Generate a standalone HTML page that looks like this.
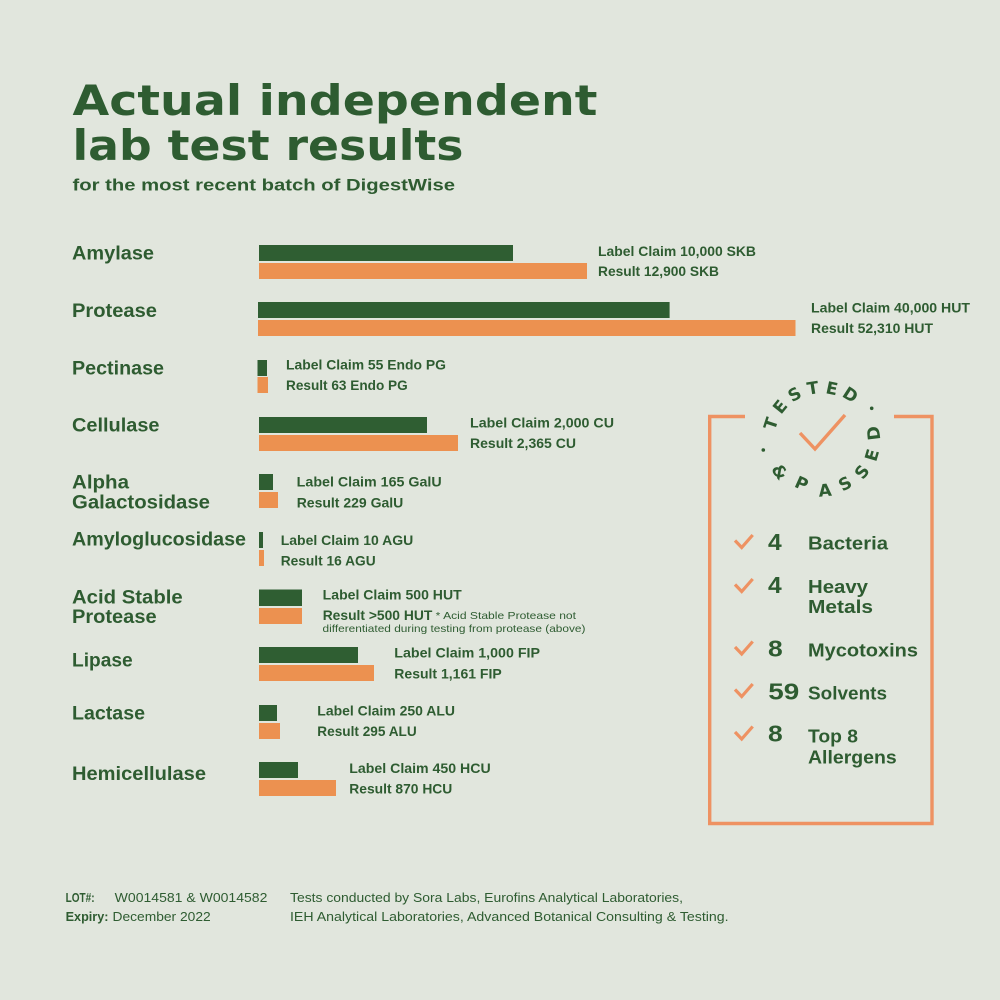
<!DOCTYPE html>
<html><head><meta charset="utf-8"><style>
html,body{margin:0;padding:0;background:#e1e6dd;}
svg{display:block;}
text{fill:#2e5c31;font-family:"Liberation Sans",sans-serif;font-weight:bold;}
.t{font-family:"DejaVu Sans","Liberation Sans",sans-serif;font-weight:bold;}
.lab{font-size:14px;}
.name{font-size:19px;}
.reg{font-weight:normal;}
</style></head><body>
<svg width="1000" height="1000" viewBox="0 0 1000 1000" xmlns="http://www.w3.org/2000/svg">
<rect width="1000" height="1000" fill="#e1e6dd"/>
<!-- Title -->
<text class="t" x="72.5" y="115" font-size="42" textLength="525" lengthAdjust="spacingAndGlyphs">Actual independent</text>
<text class="t" x="72.5" y="160" font-size="42" textLength="391" lengthAdjust="spacingAndGlyphs">lab test results</text>
<text x="72.5" y="190.5" font-size="16.5" textLength="382.5" lengthAdjust="spacingAndGlyphs">for the most recent batch of DigestWise</text>

<!-- Left names -->
<g class="name">
<text class="name" x="72" y="259.5" textLength="82" lengthAdjust="spacingAndGlyphs">Amylase</text>
<text class="name" x="72" y="317" textLength="85" lengthAdjust="spacingAndGlyphs">Protease</text>
<text class="name" x="72" y="374.5" textLength="92" lengthAdjust="spacingAndGlyphs">Pectinase</text>
<text class="name" x="72" y="431.7" textLength="87.5" lengthAdjust="spacingAndGlyphs">Cellulase</text>
<text class="name" x="72" y="488.3" textLength="57" lengthAdjust="spacingAndGlyphs">Alpha</text>
<text class="name" x="72" y="508.3" textLength="138" lengthAdjust="spacingAndGlyphs">Galactosidase</text>
<text class="name" x="72" y="545.7" textLength="174" lengthAdjust="spacingAndGlyphs">Amyloglucosidase</text>
<text class="name" x="72" y="603.3" textLength="110.7" lengthAdjust="spacingAndGlyphs">Acid Stable</text>
<text class="name" x="72" y="623" textLength="84.6" lengthAdjust="spacingAndGlyphs">Protease</text>
<text class="name" x="72" y="666.7" textLength="60.7" lengthAdjust="spacingAndGlyphs">Lipase</text>
<text class="name" x="72" y="719.3" textLength="73" lengthAdjust="spacingAndGlyphs">Lactase</text>
<text class="name" x="72" y="780" textLength="134" lengthAdjust="spacingAndGlyphs">Hemicellulase</text>
</g>

<!-- Bars -->
<g fill="#2f5e32">
<rect x="259" y="245" width="254" height="16"/>
<rect x="258" y="302" width="411.6" height="16"/>
<rect x="257.5" y="360" width="9.5" height="16"/>
<rect x="259" y="417" width="168" height="16"/>
<rect x="259" y="474" width="14" height="16"/>
<rect x="259" y="532" width="4" height="16"/>
<rect x="259" y="589.5" width="43" height="16.5"/>
<rect x="259" y="647" width="99" height="16"/>
<rect x="259" y="705" width="18" height="16"/>
<rect x="259" y="762" width="39" height="16"/>
</g>
<g fill="#ec9150">
<rect x="259" y="263" width="328" height="16"/>
<rect x="258" y="320" width="537.5" height="16"/>
<rect x="257.5" y="377" width="10.5" height="16"/>
<rect x="259" y="435" width="199" height="16"/>
<rect x="259" y="492" width="19" height="16"/>
<rect x="259" y="550" width="5" height="16"/>
<rect x="259" y="608" width="43" height="16"/>
<rect x="259" y="665" width="115" height="16"/>
<rect x="259" y="723" width="21" height="16"/>
<rect x="259" y="780" width="77" height="16"/>
</g>

<!-- Bar labels -->
<text class="lab" x="598" y="256" textLength="158" lengthAdjust="spacingAndGlyphs">Label Claim 10,000 SKB</text>
<text class="lab" x="598" y="276" textLength="121" lengthAdjust="spacingAndGlyphs">Result 12,900 SKB</text>
<text class="lab" x="811" y="312.5" textLength="159" lengthAdjust="spacingAndGlyphs">Label Claim 40,000 HUT</text>
<text class="lab" x="811" y="333" textLength="122" lengthAdjust="spacingAndGlyphs">Result 52,310 HUT</text>
<text class="lab" x="286" y="369.5" textLength="160" lengthAdjust="spacingAndGlyphs">Label Claim 55 Endo PG</text>
<text class="lab" x="286" y="390" textLength="121.7" lengthAdjust="spacingAndGlyphs">Result 63 Endo PG</text>
<text class="lab" x="470" y="427.5" textLength="144" lengthAdjust="spacingAndGlyphs">Label Claim 2,000 CU</text>
<text class="lab" x="470" y="448" textLength="106" lengthAdjust="spacingAndGlyphs">Result 2,365 CU</text>
<text class="lab" x="296.7" y="486.7" textLength="145" lengthAdjust="spacingAndGlyphs">Label Claim 165 GalU</text>
<text class="lab" x="296.7" y="507.7" textLength="106.6" lengthAdjust="spacingAndGlyphs">Result 229 GalU</text>
<text class="lab" x="280.7" y="545" textLength="132.6" lengthAdjust="spacingAndGlyphs">Label Claim 10 AGU</text>
<text class="lab" x="280.7" y="565.7" textLength="95" lengthAdjust="spacingAndGlyphs">Result 16 AGU</text>
<text class="lab" x="322.7" y="599.5" textLength="139" lengthAdjust="spacingAndGlyphs">Label Claim 500 HUT</text>
<text class="lab" x="322.7" y="620" textLength="109.6" lengthAdjust="spacingAndGlyphs">Result &gt;500 HUT</text>
<text class="reg" x="435.7" y="619" font-size="10.5" textLength="140.3" lengthAdjust="spacingAndGlyphs">* Acid Stable Protease not</text>
<text class="reg" x="322.5" y="632" font-size="10.5" textLength="263" lengthAdjust="spacingAndGlyphs">differentiated during testing from protease (above)</text>
<text class="lab" x="394.3" y="657.5" textLength="145.7" lengthAdjust="spacingAndGlyphs">Label Claim 1,000 FIP</text>
<text class="lab" x="394.3" y="678.5" textLength="107.4" lengthAdjust="spacingAndGlyphs">Result 1,161 FIP</text>
<text class="lab" x="317.3" y="715.5" textLength="137.7" lengthAdjust="spacingAndGlyphs">Label Claim 250 ALU</text>
<text class="lab" x="317.3" y="736" textLength="99.4" lengthAdjust="spacingAndGlyphs">Result 295 ALU</text>
<text class="lab" x="349.3" y="773" textLength="141.4" lengthAdjust="spacingAndGlyphs">Label Claim 450 HCU</text>
<text class="lab" x="349.3" y="793.5" textLength="103" lengthAdjust="spacingAndGlyphs">Result 870 HCU</text>

<!-- Right box -->
<path d="M745 416.5 H709.7 V823.5 H932 V416.5 H894" fill="none" stroke="#ee9262" stroke-width="3.4"/>
<!-- Badge check -->
<polyline points="800,433 815,449 845,415" fill="none" stroke="#ee9262" stroke-width="3.4"/>
<!-- Badge letters -->
<g class="t" font-size="17" text-anchor="middle">
<text class="t" transform="translate(770.6,423.6) rotate(-72)" y="6.2">T</text>
<text class="t" transform="translate(779.8,406.6) rotate(-51)" y="6.2">E</text>
<text class="t" transform="translate(794.5,394.1) rotate(-30)" y="6.2">S</text>
<text class="t" transform="translate(812.7,387.7) rotate(-9)" y="6.2">T</text>
<text class="t" transform="translate(832,388.2) rotate(12)" y="6.2">E</text>
<text class="t" transform="translate(850.5,394.5) rotate(33)" y="6.2">D</text>
<text class="t" transform="translate(873.3,433.3) rotate(-97)" y="6.2">D</text>
<text class="t" transform="translate(871.7,455) rotate(-73.5)" y="6.2">E</text>
<text class="t" transform="translate(861.7,471.7) rotate(-52)" y="6.2">S</text>
<text class="t" transform="translate(845,483.3) rotate(-29)" y="6.2">S</text>
<text class="t" transform="translate(825,490) rotate(-5)" y="6.2">A</text>
<text class="t" transform="translate(801.7,483.3) rotate(24)" y="6.2">P</text>
<text class="t" transform="translate(780,471.7) rotate(52)" y="6.2">&amp;</text>
</g>
<circle cx="871.7" cy="408.3" r="1.8" fill="#2e5c31"/>
<circle cx="763.3" cy="450" r="1.8" fill="#2e5c31"/>

<!-- List checks -->
<g fill="none" stroke="#ee9262" stroke-width="3.2">
<polyline points="735,540.5 741.7,547.5 752.7,535"/>
<polyline points="735,584.5 741.7,591.5 752.7,579"/>
<polyline points="735,647 741.7,654 752.7,641.5"/>
<polyline points="735,689.5 741.7,696.5 752.7,684"/>
<polyline points="735,732 741.7,739 752.7,726.5"/>
</g>
<g font-size="23.5">
<text x="768" y="550" textLength="13.7" lengthAdjust="spacingAndGlyphs">4</text>
<text x="768" y="593" textLength="13.7" lengthAdjust="spacingAndGlyphs">4</text>
<text x="768" y="656.7" textLength="14.7" lengthAdjust="spacingAndGlyphs">8</text>
<text x="768.3" y="699.3" textLength="31" lengthAdjust="spacingAndGlyphs">59</text>
<text x="768" y="741.7" textLength="14.7" lengthAdjust="spacingAndGlyphs">8</text>
</g>
<g font-size="18.5">
<text x="808" y="549.3" textLength="80" lengthAdjust="spacingAndGlyphs">Bacteria</text>
<text x="808" y="593" textLength="60" lengthAdjust="spacingAndGlyphs">Heavy</text>
<text x="808" y="613" textLength="65" lengthAdjust="spacingAndGlyphs">Metals</text>
<text x="808" y="656.7" textLength="110" lengthAdjust="spacingAndGlyphs">Mycotoxins</text>
<text x="808" y="699.3" textLength="79" lengthAdjust="spacingAndGlyphs">Solvents</text>
<text x="808" y="742.7" textLength="50" lengthAdjust="spacingAndGlyphs">Top 8</text>
<text x="808" y="763.3" textLength="88.7" lengthAdjust="spacingAndGlyphs">Allergens</text>
</g>

<!-- Footer -->
<g font-size="12.5">
<text x="65.6" y="902" textLength="29" lengthAdjust="spacingAndGlyphs" font-weight="600">LOT#:</text>
<text class="reg" x="114.7" y="902" textLength="152.7" lengthAdjust="spacingAndGlyphs">W0014581 &amp; W0014582</text>
<text x="65.6" y="921" textLength="42.9" lengthAdjust="spacingAndGlyphs">Expiry:</text>
<text class="reg" x="112.5" y="921" textLength="98.2" lengthAdjust="spacingAndGlyphs">December 2022</text>
<text class="reg" x="290" y="902" textLength="393" lengthAdjust="spacingAndGlyphs">Tests conducted by Sora Labs, Eurofins Analytical Laboratories,</text>
<text class="reg" x="290" y="921" textLength="438.6" lengthAdjust="spacingAndGlyphs">IEH Analytical Laboratories, Advanced Botanical Consulting &amp; Testing.</text>
</g>
</svg>
</body></html>
